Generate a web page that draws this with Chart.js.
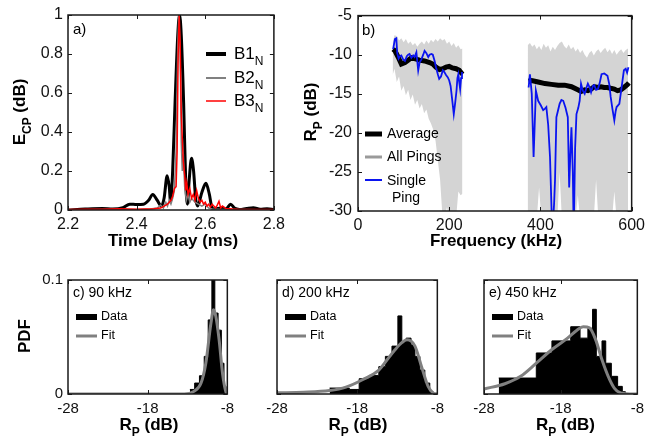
<!DOCTYPE html>
<html>
<head>
<meta charset="utf-8">
<script src="https://cdn.jsdelivr.net/npm/chart.js@4.4.1/dist/chart.umd.min.js"></script>
<style>
  html, body { margin: 0; padding: 0; background: #fff; }
  #wrap { position: relative; width: 650px; height: 439px; overflow: hidden; }
  canvas { position: absolute; }
</style>
</head>
<body>
<div id="wrap">
  <canvas id="pa" width="290" height="255" style="left:0;top:0"></canvas>
  <canvas id="pb" width="360" height="255" style="left:290px;top:0"></canvas>
  <canvas id="pc" width="240" height="179" style="left:0;top:260px"></canvas>
  <canvas id="pd" width="210" height="179" style="left:240px;top:260px"></canvas>
  <canvas id="pe" width="200" height="179" style="left:450px;top:260px"></canvas>
</div>
<script>
// ---- a) matched filter output vs time delay ----
const b1Time = [2.20, 2.25, 2.30, 2.33, 2.36, 2.38, 2.40, 2.42, 2.435, 2.447, 2.46, 2.472, 2.48, 2.489, 2.495, 2.499, 2.505, 2.512, 2.52, 2.525, 2.53, 2.537, 2.543, 2.548, 2.553, 2.56, 2.566, 2.572, 2.578, 2.59, 2.602, 2.612, 2.62, 2.63, 2.645, 2.66, 2.674, 2.685, 2.70, 2.72, 2.74, 2.76, 2.78, 2.80];
const b1Val  = [0.0, 0.005, 0.008, 0.005, 0.012, 0.03, 0.028, 0.03, 0.05, 0.08, 0.05, 0.02, 0.06, 0.176, 0.12, 0.04, 0.2, 0.55, 0.9, 1.0, 0.9, 0.55, 0.15, 0.03, 0.15, 0.265, 0.2, 0.06, 0.02, 0.09, 0.137, 0.08, 0.01, 0.005, 0.01, 0.005, 0.03, 0.01, 0.003, 0.008, 0.012, 0.004, 0.006, 0.002];
const b2Time = [2.20, 2.30, 2.40, 2.44, 2.46, 2.47, 2.478, 2.485, 2.49, 2.495, 2.50, 2.505, 2.51, 2.515, 2.52, 2.523, 2.527, 2.53, 2.533, 2.536, 2.54, 2.545, 2.55, 2.555, 2.56, 2.57, 2.58, 2.59, 2.60, 2.61, 2.62, 2.65, 2.70, 2.80];
const b2Val  = [0.0, 0.003, 0.002, 0.005, 0.01, 0.025, 0.01, 0.04, 0.02, 0.05, 0.03, 0.06, 0.1, 0.3, 0.85, 1.0, 0.8, 0.35, 0.2, 0.29, 0.12, 0.05, 0.08, 0.04, 0.06, 0.04, 0.03, 0.02, 0.03, 0.01, 0.005, 0.003, 0.002, 0.0];
const b3Time = [2.20, 2.25, 2.30, 2.35, 2.40, 2.45, 2.47, 2.48, 2.49, 2.50, 2.505, 2.51, 2.515, 2.518, 2.521, 2.524, 2.527, 2.53, 2.533, 2.536, 2.54, 2.543, 2.546, 2.55, 2.555, 2.56, 2.565, 2.57, 2.575, 2.58, 2.585, 2.59, 2.595, 2.60, 2.605, 2.61, 2.615, 2.62, 2.625, 2.63, 2.635, 2.64, 2.645, 2.65, 2.66, 2.68, 2.70, 2.75, 2.80];
const b3Val  = [0.003, 0.004, 0.004, 0.006, 0.004, 0.006, 0.01, 0.02, 0.03, 0.05, 0.07, 0.11, 0.12, 0.3, 0.8, 1.0, 0.85, 0.5, 0.37, 0.25, 0.18, 0.1, 0.14, 0.08, 0.11, 0.06, 0.08, 0.05, 0.1, 0.06, 0.04, 0.05, 0.03, 0.04, 0.02, 0.03, 0.015, 0.03, 0.02, 0.01, 0.025, 0.045, 0.01, 0.02, 0.008, 0.005, 0.003, 0.002, 0.002];

// ---- b) R_P vs frequency ----
const pingFreq1  = [76, 80, 85, 90, 95, 100, 105, 110, 115, 120, 125, 130, 135, 140, 145, 150, 155, 160, 165, 170, 175, 180, 185, 190, 195, 200, 205, 210, 215, 220, 225, 229];
const pingUpper1 = [-8.5, -7.5, -7.6, -8.2, -7.9, -8.4, -8.0, -8.6, -8.3, -8.8, -8.5, -9.0, -8.6, -8.3, -8.7, -8.2, -8.6, -8.1, -8.4, -8.0, -8.3, -7.9, -8.2, -8.0, -8.6, -8.3, -8.9, -8.5, -9.1, -8.8, -9.3, -9.2];
const pingLower1 = [-12.6, -11.8, -13.5, -12.8, -14.6, -14.0, -15.2, -14.5, -15.8, -15.1, -16.4, -15.8, -16.9, -16.3, -17.5, -17.0, -18.2, -18.8, -19.6, -21.0, -23.5, -26.0, -30.5, -31, -29.5, -31, -31, -30.5, -31, -27.5, -28, -27.8];
const pingFreq2  = [372, 377, 382, 387, 392, 397, 402, 407, 412, 417, 422, 427, 432, 437, 442, 447, 452, 457, 462, 467, 472, 477, 482, 487, 492, 497, 502, 507, 512, 517, 522, 527, 532, 537, 542, 547, 552, 557, 562, 567, 572, 577, 582, 587, 592];
const pingUpper2 = [-8.8, -8.5, -9.0, -8.7, -9.3, -8.9, -9.4, -8.6, -9.1, -8.8, -9.6, -9.0, -9.4, -8.9, -8.5, -8.3, -8.9, -9.2, -8.7, -9.3, -9.0, -9.6, -9.2, -9.8, -9.4, -10.0, -10.4, -9.8, -9.5, -10.1, -9.6, -9.3, -9.8, -9.4, -9.1, -9.7, -9.3, -9.9, -9.4, -10.0, -9.6, -9.3, -9.8, -9.4, -9.2];
const pingLower2 = [-31, -31, -31, -31, -31, -27, -31, -31, -31, -31, -31, -31, -31, -31, -25, -31, -31, -31, -31, -31, -31, -31, -28, -31, -31, -31, -31, -31, -31, -31, -26, -31, -31, -31, -31, -31, -31, -31, -27.5, -31, -31, -31, -31, -31, -31];
const avgFreq1 = [77, 81, 88, 95, 103, 110, 117, 124, 135, 146, 157, 164, 171, 179, 186, 193, 200, 207, 215, 222, 229];
const avgVal1  = [-9.3, -9.5, -10.3, -11.2, -11.0, -10.7, -10.4, -10.5, -10.7, -10.8, -11.0, -11.2, -11.6, -11.9, -11.8, -11.6, -11.5, -11.7, -11.8, -12.0, -12.5];
const avgFreq2 = [374, 381, 395, 410, 424, 439, 453, 468, 482, 489, 497, 504, 511, 518, 526, 533, 540, 547, 554, 562, 569, 576, 583, 591, 594];
const avgVal2  = [-13.4, -13.3, -13.5, -13.7, -13.8, -13.9, -13.9, -14.1, -14.5, -14.7, -14.5, -14.6, -14.4, -14.1, -14.2, -14.1, -14.2, -14.2, -14.3, -14.4, -14.6, -14.5, -14.2, -13.8, -13.6];
const oneFreq1 = [77, 81, 84, 86, 89, 92, 95, 99, 103, 107, 110, 113, 117, 121, 124, 128, 132, 135, 139, 143, 146, 150, 154, 157, 161, 164, 168, 171, 175, 178, 182, 186, 189, 193, 197, 200, 203, 206, 210, 213, 216, 218, 220, 222, 224, 226, 228];
const oneVal1  = [-9.3, -8.0, -7.9, -9.8, -10.5, -10.2, -10.1, -10.6, -10.8, -10.2, -10.0, -9.9, -10.4, -10.1, -10.3, -9.7, -12.0, -11.0, -10.6, -10.0, -9.5, -9.8, -10.3, -10.0, -9.9, -10.0, -10.8, -11.6, -12.5, -13.1, -12.8, -12.0, -12.2, -12.6, -12.9, -13.3, -14.0, -15.5, -17.6, -16.2, -14.6, -13.0, -12.5, -13.5, -14.4, -13.0, -12.2];
const oneFreq2 = [374, 377, 381, 385, 390, 395, 401, 406, 410, 413, 417, 421, 426, 430, 432, 435, 442, 446, 450, 455, 460, 463, 466, 468, 471, 473, 476, 479, 483, 486, 489, 493, 497, 501, 504, 508, 511, 515, 518, 522, 526, 530, 534, 540, 547, 551, 554, 558, 562, 565, 567, 573, 576, 580, 583, 587, 590, 593];
const oneVal2  = [-14.2, -12.5, -15.0, -23.1, -14.6, -15.9, -16.5, -17.1, -16.9, -16.7, -19.0, -23.1, -33, -29, -26, -18, -16.3, -15.8, -15.9, -16.8, -18, -27, -22, -19.3, -25, -33, -22, -17.6, -16.8, -15.9, -13.7, -14.6, -15, -14.2, -13.7, -14.2, -14.8, -14.0, -13.9, -14.5, -14.4, -13.6, -12.5, -12.4, -12.7, -13.8, -15.4, -17.0, -18.4, -17.2, -16.7, -16.3, -15.0, -13.3, -12.0, -11.8, -12.3, -11.6];

// ---- c, d, e) histograms (bin edges, bar heights) and fits ----
const histEdgesC = [-12.7, -12.1, -11.5, -10.9, -10.4, -9.94, -9.57, -9.16, -8.75, -8.42, -8.17];
const histValsC  = [0.004, 0.0096, 0.016, 0.033, 0.065, 0.1, 0.071, 0.056, 0.027, 0.0067];
const fitXC = [-28, -13.4, -12.2, -11.3, -10.7, -10.06, -9.73, -9.44, -9.03, -8.6, -8.2, -8];
const fitYC = [0, 0, 0.0023, 0.0096, 0.027, 0.062, 0.0738, 0.068, 0.0475, 0.018, 0.0023, 0];
const histEdgesD = [-21.44, -18.98, -17.75, -16.52, -15.3, -14.48, -13.66, -12.92, -12.43, -11.89, -11.28, -10.79, -10.17, -9.56, -8.94, -8.53];
const histValsD  = [0.0052, 0.004, 0.0134, 0.0163, 0.024, 0.033, 0.042, 0.0685, 0.046, 0.049, 0.043, 0.033, 0.021, 0.0096, 0.002];
const fitXD = [-28, -24.7, -21.44, -19.4, -17.34, -15.3, -14.27, -13.25, -12.43, -11.81, -10.79, -9.97, -9.15, -8.53, -8.0];
const fitYD = [0.001, 0.0015, 0.003, 0.006, 0.0125, 0.021, 0.030, 0.039, 0.045, 0.0475, 0.042, 0.024, 0.0067, 0.001, 0];
const histEdgesE = [-26.08, -21.18, -19.14, -16.69, -15.47, -14.45, -13.84, -13.35, -12.61, -12.12, -11.39, -10.57, -9.96, -9.55];
const histValsE  = [0.014, 0.036, 0.0466, 0.059, 0.049, 0.0577, 0.0743, 0.033, 0.0466, 0.027, 0.0155, 0.0067, 0.002];
const fitXE = [-28, -25.27, -23.22, -21.18, -19.14, -17.10, -15.88, -15.06, -14.24, -13.43, -12.61, -11.80, -10.98, -10.16, -8.0];
const fitYE = [0.0044, 0.009, 0.0155, 0.027, 0.039, 0.049, 0.056, 0.059, 0.058, 0.0475, 0.03, 0.0155, 0.005, 0.001, 0];

const FONT = '"Liberation Sans", Arial, Helvetica, sans-serif';
Chart.defaults.font.family = FONT;
Chart.defaults.color = '#111';

const pts = (xs, ys) => xs.map((x, i) => ({ x: x, y: ys[i] }));
// step outline of a histogram: one point per bin edge, last one drops to 0
const histPts = (edges, vals) => edges.map((e, i) => ({ x: e, y: i < vals.length ? vals[i] : 0 }));

// text with subscripts, drawn in page coords
function drawRich(ctx, t, ox, oy) {
  const fnt = s => (t.bold ? 'bold ' : '') + s + 'px ' + FONT;
  const sub = Math.round(t.size * 0.72);
  let total = 0;
  t.parts.forEach(p => { ctx.font = fnt(p[1] ? sub : t.size); total += ctx.measureText(p[0]).width; });
  ctx.save();
  ctx.translate(t.x - ox, t.y - oy);
  if (t.rot) ctx.rotate(t.rot);
  ctx.fillStyle = '#000';
  ctx.textBaseline = 'middle';
  ctx.textAlign = 'left';
  let cx = t.align === 'left' ? 0 : -total / 2;
  t.parts.forEach(p => {
    ctx.font = fnt(p[1] ? sub : t.size);
    ctx.fillText(p[0], cx, p[1] ? t.size * 0.45 : 0);
    cx += ctx.measureText(p[0]).width;
  });
  ctx.restore();
}

const decorSpecs = {};
const decorPlugin = {
  id: 'decor',
  afterDraw(chart) {
    const spec = decorSpecs[chart.canvas.id];
    if (!spec) return;
    const ctx = chart.ctx, a = chart.chartArea;
    const xs = chart.scales.x, ys = chart.scales.y;
    ctx.save();
    ctx.strokeStyle = '#1a1a1a';
    ctx.lineWidth = 1;
    ctx.beginPath();
    xs.ticks.forEach(t => {
      const p = Math.round(xs.getPixelForValue(t.value)) + 0.5;
      ctx.moveTo(p, a.bottom); ctx.lineTo(p, a.bottom - 4);
      ctx.moveTo(p, a.top); ctx.lineTo(p, a.top + 4);
    });
    ys.ticks.forEach(t => {
      const p = Math.round(ys.getPixelForValue(t.value)) + 0.5;
      ctx.moveTo(a.left, p); ctx.lineTo(a.left + 4, p);
      ctx.moveTo(a.right, p); ctx.lineTo(a.right - 4, p);
    });
    ctx.stroke();
    ctx.lineWidth = 1.5;
    ctx.strokeRect(a.left, a.top, a.right - a.left, a.bottom - a.top);
    const ox = spec.left, oy = spec.top;
    (spec.legend || []).forEach(l => {
      if (l.rect) {
        ctx.fillStyle = l.color;
        ctx.fillRect(l.x1 - ox, l.y - oy - l.w / 2, l.x2 - l.x1, l.w);
      } else {
        ctx.strokeStyle = l.color;
        ctx.lineWidth = l.w;
        ctx.beginPath();
        ctx.moveTo(l.x1 - ox, l.y - oy);
        ctx.lineTo(l.x2 - ox, l.y - oy);
        ctx.stroke();
      }
    });
    (spec.texts || []).forEach(t => drawRich(ctx, t, ox, oy));
    ctx.restore();
  }
};

function axis(min, max, step, size, pad, fit, show, fmt) {
  return {
    type: 'linear', min: min, max: max,
    ticks: { stepSize: step, font: { size: size }, color: '#111', padding: pad, display: show,
             maxRotation: 0, autoSkip: false, callback: fmt || (v => String(Number(v.toFixed(2)))) },
    grid: { display: false, drawTicks: false },
    border: { display: false },
    afterFit: fit
  };
}

function makeChart(id, datasets, xAx, yAx, pad) {
  return new Chart(document.getElementById(id), {
    type: 'line',
    data: { datasets: datasets },
    options: {
      responsive: false, animation: false, devicePixelRatio: 1,
      layout: { padding: pad, autoPadding: false },
      elements: { point: { radius: 0 } },
      plugins: { legend: { display: false }, tooltip: { enabled: false } },
      scales: { x: xAx, y: yAx }
    },
    plugins: [decorPlugin]
  });
}

// ---- panel a ----
decorSpecs.pa = {
  left: 0, top: 0,
  legend: [
    { x1: 206, x2: 226, y: 54, w: 4, color: '#000' },
    { x1: 206, x2: 226, y: 78, w: 2, color: '#808080' },
    { x1: 206, x2: 226, y: 101, w: 1.5, color: '#ff0000' }
  ],
  texts: [
    { parts: [['a)']], x: 73, y: 30, size: 15, align: 'left' },
    { parts: [['B1'], ['N', 1]], x: 234, y: 54, size: 17, align: 'left' },
    { parts: [['B2'], ['N', 1]], x: 234, y: 78, size: 17, align: 'left' },
    { parts: [['B3'], ['N', 1]], x: 234, y: 101, size: 17, align: 'left' },
    { parts: [['Time Delay (ms)']], x: 173, y: 241, size: 17, bold: true },
    { parts: [['E'], ['CP', 1], [' (dB)']], x: 20, y: 112, size: 17, bold: true, rot: -Math.PI / 2 }
  ]
};
makeChart('pa', [
  { data: pts(b3Time, b3Val), borderColor: '#ff0000', borderWidth: 1.5, order: 0 },
  { data: pts(b2Time, b2Val), borderColor: '#808080', borderWidth: 1.5, order: 1 },
  { data: pts(b1Time, b1Val), borderColor: '#000', borderWidth: 3, cubicInterpolationMode: 'monotone', order: 2 }
],
  axis(2.2, 2.8, 0.2, 16, 5, s => { s.height = 45; }, true, v => v.toFixed(1)),
  axis(0, 1, 0.2, 16, 5, s => { s.width = 68; }, true),
  { left: 0, right: 12, top: 15, bottom: 0 });

// ---- panel b ----
decorSpecs.pb = {
  left: 290, top: 0,
  legend: [
    { x1: 365, x2: 382, y: 134, w: 5, color: '#000' },
    { x1: 365, x2: 382, y: 157, w: 3, color: '#9a9a9a' },
    { x1: 365, x2: 382, y: 180, w: 2, color: '#0a14f0' }
  ],
  texts: [
    { parts: [['b)']], x: 362, y: 31, size: 15, align: 'left' },
    { parts: [['Average']], x: 387, y: 134, size: 14, align: 'left' },
    { parts: [['All Pings']], x: 387, y: 157, size: 14, align: 'left' },
    { parts: [['Single']], x: 387, y: 181, size: 14, align: 'left' },
    { parts: [['Ping']], x: 392, y: 198, size: 14, align: 'left' },
    { parts: [['Frequency (kHz)']], x: 496, y: 241, size: 17, bold: true },
    { parts: [['R'], ['P', 1], [' (dB)']], x: 311, y: 112, size: 17, bold: true, rot: -Math.PI / 2 }
  ]
};
const grayFill = '#d4d4d4';
makeChart('pb', [
  { data: pts(oneFreq1, oneVal1), borderColor: '#0a14f0', borderWidth: 1.8, order: 0 },
  { data: pts(oneFreq2, oneVal2), borderColor: '#0a14f0', borderWidth: 1.8, order: 0 },
  { data: pts(avgFreq1, avgVal1), borderColor: '#000', borderWidth: 5, order: 1 },
  { data: pts(avgFreq2, avgVal2), borderColor: '#000', borderWidth: 5, order: 1 },
  { data: pts(pingFreq1, pingUpper1), borderWidth: 0, borderColor: grayFill, backgroundColor: grayFill, fill: '+1', order: 2 },
  { data: pts(pingFreq1, pingLower1), borderWidth: 0, borderColor: grayFill, fill: false, order: 3 },
  { data: pts(pingFreq2, pingUpper2), borderWidth: 0, borderColor: grayFill, backgroundColor: grayFill, fill: '+1', order: 4 },
  { data: pts(pingFreq2, pingLower2), borderWidth: 0, borderColor: grayFill, fill: false, order: 5 }
],
  axis(0, 600, 200, 16, 5, s => { s.height = 44; }, true),
  axis(-30, -5, 5, 16, 6, s => { s.width = 68; }, true),
  { left: 0, right: 16, top: 15, bottom: 0 });

// ---- panels c, d, e ----
function histPanel(id, left, width, yw, pr, edges, vals, fx, fy, label, showY) {
  const lx = left + yw + 5;
  const rx = lx + 3;
  decorSpecs[id] = {
    left: left, top: 260,
    legend: [
      { rect: true, x1: rx, x2: rx + 21, y: 317, w: 6, color: '#000' },
      { x1: rx, x2: rx + 21, y: 336, w: 3, color: '#808080' }
    ],
    texts: [
      { parts: [[label]], x: lx, y: 293, size: 14, align: 'left' },
      { parts: [['Data']], x: rx + 25, y: 317, size: 12.5, align: 'left' },
      { parts: [['Fit']], x: rx + 25, y: 336, size: 12.5, align: 'left' },
      { parts: [['R'], ['P', 1], [' (dB)']], x: (left + yw + left + width - pr) / 2, y: 425, size: 17, bold: true }
    ].concat(showY ? [{ parts: [['PDF']], x: 25, y: 336, size: 17, bold: true, rot: -Math.PI / 2 }] : [])
  };
  makeChart(id, [
    { data: pts(fx, fy), borderColor: '#808080', borderWidth: 3, cubicInterpolationMode: 'monotone', order: 0 },
    { data: histPts(edges, vals), stepped: 'before', fill: 'origin', borderColor: '#000', backgroundColor: '#000', borderWidth: 1, order: 1 }
  ],
    axis(-28, -8, 10, 15, 6, s => { s.height = 45; }, true, v => String(v)),
    axis(0, 0.1, 0.1, 15, 5, s => { s.width = yw; }, showY, v => String(Number(v.toFixed(2)))),
    { left: 0, right: pr, top: 20, bottom: 0 });
}
histPanel('pc', 0, 240, 68, 10, histEdgesC, histValsC, fitXC, fitYC, 'c) 90 kHz', true);
histPanel('pd', 240, 210, 37, 11, histEdgesD, histValsD, fitXD, fitYD, 'd) 200 kHz', false);
histPanel('pe', 450, 200, 34, 3, histEdgesE, histValsE, fitXE, fitYE, 'e) 450 kHz', false);
</script>
</body>
</html>
